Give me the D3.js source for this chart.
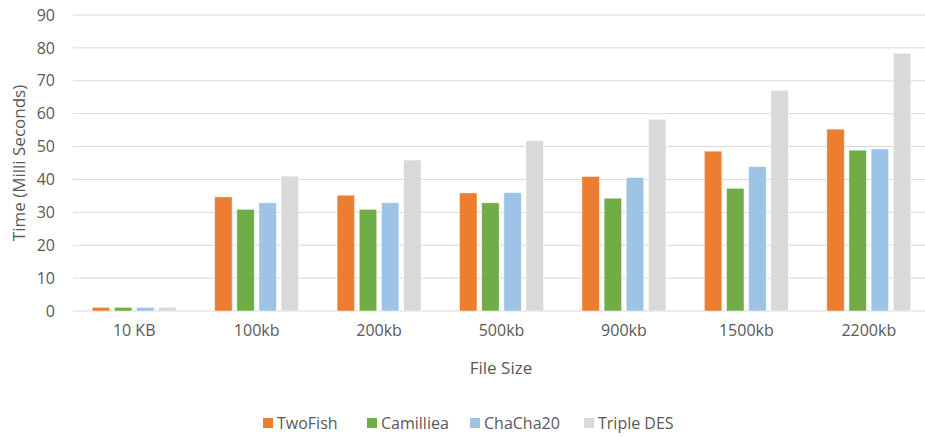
<!DOCTYPE html>
<html>
<head>
<meta charset="utf-8">
<script src="https://cdn.jsdelivr.net/npm/d3@7"></script>
<style>
  html, body { margin: 0; padding: 0; background: #fff; }
  svg { display: block; font-family: "Open Sans", "Noto Sans", sans-serif; }
</style>
</head>
<body>
<svg id="chart" width="925" height="437"></svg>
<script>
// File sizes tested
const categories = ["10 KB", "100kb", "200kb", "500kb", "900kb", "1500kb", "2200kb"];

// Encryption time per algorithm (milliseconds)
const twoFish   = [1.1, 34.7, 35.2, 35.9, 40.9, 48.6, 55.3];
const camilliea = [1.1, 30.9, 30.9, 32.9, 34.3, 37.3, 48.9];
const chaCha20  = [1.1, 32.9, 32.9, 36.0, 40.6, 43.9, 49.3];
const tripleDES = [1.1, 41.0, 45.9, 51.8, 58.3, 67.1, 78.3];

const seriesNames = ["TwoFish", "Camilliea", "ChaCha20", "Triple DES"];
const seriesValues = [twoFish, camilliea, chaCha20, tripleDES];
const colors = ["#ED7D31", "#70AD47", "#9DC3E6", "#D9D9D9"];

const yTicks = [0, 10, 20, 30, 40, 50, 60, 70, 80, 90];

const svg = d3.select("#chart");
const plot = { left: 73, right: 930, top: 15, bottom: 311 };
const textColor = "#595959";

const x0 = d3.scaleBand().domain(categories).range([plot.left, plot.right]).padding(0);
const groupW = 84;
const x1 = d3.scaleBand().domain(seriesNames)
  .range([(x0.bandwidth() - groupW) / 2, (x0.bandwidth() + groupW) / 2])
  .paddingInner(0.21).paddingOuter(0);
const y = d3.scaleLinear().domain([0, 90]).range([plot.bottom, plot.top]);

// Horizontal gridlines
svg.append("g")
  .selectAll("line")
  .data(yTicks)
  .join("line")
  .attr("x1", plot.left).attr("x2", plot.right)
  .attr("y1", d => y(d)).attr("y2", d => y(d))
  .attr("stroke", "#D9D9D9").attr("stroke-width", 1);

// Y axis labels
const yAxis = d3.axisLeft(y).tickValues(yTicks).tickSize(0).tickPadding(0);
const gy = svg.append("g").attr("transform", "translate(55,0)").call(yAxis);
gy.select(".domain").remove();
gy.selectAll("text")
  .attr("fill", textColor)
  .style("font-size", "16px")
  .style("font-family", "'Open Sans', sans-serif");

// Bars
const rows = categories.map((c, i) => ({
  cat: c,
  vals: seriesNames.map((s, j) => ({ name: s, value: seriesValues[j][i], color: colors[j] }))
}));

svg.append("g")
  .selectAll("g")
  .data(rows)
  .join("g")
  .attr("transform", d => `translate(${x0(d.cat)},0)`)
  .selectAll("rect")
  .data(d => d.vals)
  .join("rect")
  .attr("x", d => x1(d.name))
  .attr("width", x1.bandwidth())
  .attr("y", d => y(d.value))
  .attr("height", d => y(0) - y(d.value))
  .attr("fill", d => d.color)
  .attr("stroke", "#fff")
  .attr("stroke-opacity", 0.6)
  .attr("stroke-width", 0.8);

// X axis labels
const xAxis = d3.axisBottom(x0).tickSize(0).tickPadding(0);
const gx = svg.append("g").attr("transform", `translate(0,${plot.bottom + 20})`).call(xAxis);
gx.select(".domain").remove();
gx.selectAll("text")
  .attr("fill", textColor)
  .attr("dy", "0.32em")
  .style("font-size", "16px")
  .style("font-family", "'Open Sans', sans-serif");

// Axis titles
svg.append("text")
  .attr("x", 501).attr("y", 368)
  .attr("dy", "0.35em")
  .attr("text-anchor", "middle")
  .attr("fill", textColor)
  .style("font-size", "17px")
  .text("File Size");

svg.append("text")
  .attr("transform", `translate(19,${(plot.top + plot.bottom) / 2}) rotate(-90)`)
  .attr("dy", "0.35em")
  .attr("text-anchor", "middle")
  .attr("fill", textColor)
  .style("font-size", "17px")
  .text("Time (Milli Seconds)");

// Legend
const legendX = [263, 367, 470, 584];
const legend = svg.append("g")
  .selectAll("g")
  .data(seriesNames)
  .join("g")
  .attr("transform", (d, i) => `translate(${legendX[i]},423)`);
legend.append("rect")
  .attr("x", 0).attr("y", -5)
  .attr("width", 10).attr("height", 10)
  .attr("fill", (d, i) => colors[i]);
legend.append("text")
  .attr("x", 14).attr("dy", "0.35em")
  .attr("fill", textColor)
  .style("font-size", "16px")
  .text(d => d);
</script>
</body>
</html>
